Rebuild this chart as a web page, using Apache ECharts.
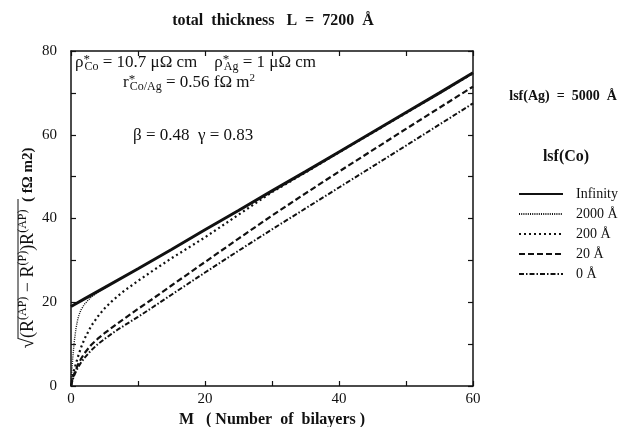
<!DOCTYPE html>
<html>
<head>
<meta charset="utf-8">
<script src="https://cdn.jsdelivr.net/npm/echarts@6/dist/echarts.min.js"></script>
<style>
  html, body { margin: 0; padding: 0; background: #fff; }
  #chart { width: 637px; height: 427px; }
</style>
</head>
<body>
<div id="chart"></div>
<script>
// bilayer number M and sqrt((R_AP - R_P) R_AP), per lsf(Co)
const mInf = [0, 2, 5, 10, 15, 20, 25, 30, 35, 40, 45, 50, 55, 60];
const vInf = [19, 20.8, 23.5, 28, 32.6, 37.3, 41.9, 46.6, 51.2, 55.9, 60.6, 65.3, 70, 74.8];

const m2000 = [0, 0.1, 0.25, 0.5, 0.75, 1, 1.25, 1.5, 2, 2.5, 3, 4, 5, 7, 10, 15, 20, 30, 40, 50, 60];
const v2000 = [0, 3, 6.5, 10.8, 13.8, 15.9, 17.2, 18.2, 19.5, 20.4, 21.2, 22.4, 23.4, 25.3, 28, 32.6, 37.3, 46.6, 55.9, 65.3, 74.8];

const m200 = [0, 0.25, 0.5, 1, 1.5, 2, 3, 4, 5, 6, 7, 8, 10, 12, 15, 17.5, 20, 22.5, 25, 27.5, 30, 35, 40, 50, 60];
const v200 = [0, 2.3, 4, 6.8, 9.2, 11.2, 14.3, 16.6, 18.5, 20.1, 21.5, 22.8, 25.1, 27.3, 30.5, 33, 35.5, 38.2, 40.9, 43.6, 46.3, 51, 55.8, 65.2, 74.7];

const m20 = [0, 0.25, 0.5, 1, 1.5, 2, 3, 4, 5, 6, 7, 8, 10, 12, 15, 20, 25, 30, 35, 40, 50, 60];
const v20 = [0, 1.8, 3, 5, 6.5, 7.8, 9.8, 11.3, 12.6, 13.8, 15, 16.1, 18.4, 20.6, 24, 29.6, 35.2, 40.7, 46, 51.2, 61.4, 71.5];

const m0 = [0, 0.25, 0.5, 1, 1.5, 2, 3, 4, 5, 6, 7, 8, 10, 12, 15, 20, 25, 30, 35, 40, 50, 60];
const v0 = [0, 1.5, 2.6, 4.3, 5.6, 6.7, 8.5, 10, 11.2, 12.4, 13.5, 14.5, 16.5, 18.6, 21.8, 27.1, 32.3, 37.4, 42.4, 47.4, 57.4, 67.5];

const seriesNames = ["Infinity", "2000 Å", "200 Å", "20 Å", "0 Å"];

function pairs(ms, vs) {
  return ms.map(function (m, i) {
    return [m, vs[i]];
  });
}

const serif = "Liberation Serif, Times New Roman, serif";
const ink = "#111";

let chart = echarts.init(document.getElementById("chart"));

function lineSeries(name, data, width, type) {
  return {
    name: name,
    type: "line",
    data: data,
    symbol: "none",
    itemStyle: { color: ink },
    lineStyle: { color: ink, width: width, type: type },
    z: 3,
  };
}

let axisBase = {
  type: "value",
  interval: 10,
  splitLine: { show: false },
  axisLine: { show: true, onZero: false, lineStyle: { color: ink, width: 1.5 } },
  axisTick: { show: true, inside: true, length: 5, lineStyle: { color: ink, width: 1.2 } },
};

let option = {
  backgroundColor: "#fff",
  animation: false,
  title: {
    text: "total  thickness   L  =  7200  Å",
    left: 268,
    top: 8,
    textAlign: "center",
    textStyle: { fontFamily: serif, fontSize: 16, fontWeight: "bold", color: ink },
  },
  grid: { left: 71, right: 164, top: 51, bottom: 41, outerBoundsMode: "none", containLabel: false },
  legend: {
    data: seriesNames,
    orient: "vertical",
    left: 513,
    top: 182,
    itemWidth: 44,
    itemHeight: 14,
    itemGap: 6,
    itemStyle: { opacity: 0 },
    textStyle: { fontFamily: serif, fontSize: 14, color: ink, padding: [0, 0, 0, 8] },
  },
  xAxis: [
    Object.assign({}, axisBase, {
      min: 0,
      max: 60,
      position: "bottom",
      name: "M   ( Number  of  bilayers )",
      nameLocation: "middle",
      nameGap: 20,
      nameTextStyle: { fontFamily: serif, fontSize: 16, fontWeight: "bold", color: ink },
      axisLabel: {
        color: ink,
        fontFamily: serif,
        fontSize: 15,
        margin: 6,
        formatter: function (v) {
          return v % 20 === 0 ? v : "";
        },
      },
    }),
    Object.assign({}, axisBase, {
      min: 0,
      max: 60,
      position: "top",
      axisLabel: { show: false },
    }),
  ],
  yAxis: [
    Object.assign({}, axisBase, {
      min: 0,
      max: 80,
      position: "left",
      axisLabel: {
        color: ink,
        fontFamily: serif,
        fontSize: 15,
        margin: 14,
        formatter: function (v) {
          return v % 20 === 0 ? v : "";
        },
      },
    }),
    Object.assign({}, axisBase, {
      min: 0,
      max: 80,
      position: "right",
      axisLabel: { show: false },
    }),
  ],
  graphic: [
    {
      type: "text",
      x: 75,
      y: 53,
      style: {
        text: "{t|ρ}{st|*}{sb|Co}{t| = 10.7 μΩ cm    ρ}{st|*}{sb|Ag}{t| = 1 μΩ cm}",
        fill: ink,
        rich: {
          t: { fontFamily: serif, fontSize: 17, lineHeight: 20, color: ink },
          st: { fontFamily: serif, fontSize: 13, lineHeight: 10, width: 1, verticalAlign: "top", color: ink },
          sb: { fontFamily: serif, fontSize: 12, lineHeight: 8, verticalAlign: "bottom", color: ink },
        },
      },
    },
    {
      type: "text",
      x: 123,
      y: 73,
      style: {
        text: "{t|r}{st|*}{sb|Co/Ag}{t| = 0.56 fΩ m}{sp|2}",
        fill: ink,
        rich: {
          t: { fontFamily: serif, fontSize: 17, lineHeight: 20, color: ink },
          st: { fontFamily: serif, fontSize: 13, lineHeight: 10, width: 1, verticalAlign: "top", color: ink },
          sb: { fontFamily: serif, fontSize: 12, lineHeight: 8, verticalAlign: "bottom", color: ink },
          sp: { fontFamily: serif, fontSize: 11, lineHeight: 12, verticalAlign: "top", color: ink },
        },
      },
    },
    {
      type: "text",
      x: 133,
      y: 127,
      style: {
        text: "β = 0.48  γ = 0.83",
        font: "17px " + serif,
        fill: ink,
      },
    },
    {
      type: "text",
      x: 28,
      y: 248,
      rotation: Math.PI / 2,
      style: {
        text: "{r|√}{t|(R}{su|(AP)}{t| − R}{su|(P)}{t|)R}{su|(AP)}{b|  ( fΩ m2)}",
        align: "center",
        verticalAlign: "middle",
        fill: ink,
        rich: {
          r: { fontFamily: serif, fontSize: 19, lineHeight: 22, color: ink },
          t: { fontFamily: serif, fontSize: 18, lineHeight: 22, color: ink },
          su: { fontFamily: serif, fontSize: 12, lineHeight: 12, verticalAlign: "top", color: ink },
          b: { fontFamily: serif, fontSize: 15, lineHeight: 22, fontWeight: "bold", color: ink },
        },
      },
    },
    {
      type: "line",
      shape: { x1: 18, y1: 199, x2: 18, y2: 339 },
      style: { stroke: ink, lineWidth: 1 },
    },
    {
      type: "text",
      x: 563,
      y: 96,
      style: {
        text: "lsf(Ag)  =  5000  Å",
        font: "bold 14px " + serif,
        fill: ink,
        align: "center",
        verticalAlign: "middle",
      },
    },
    {
      type: "text",
      x: 566,
      y: 157,
      style: {
        text: "lsf(Co)",
        font: "bold 16px " + serif,
        fill: ink,
        align: "center",
        verticalAlign: "middle",
      },
    },
  ],
  series: [
    lineSeries(seriesNames[4], pairs(m0, v0), 2, [5, 2, 1.5, 2]),
    lineSeries(seriesNames[3], pairs(m20, v20), 2.2, [6, 3]),
    lineSeries(seriesNames[2], pairs(m200, v200), 2.2, [2, 3]),
    lineSeries(seriesNames[1], pairs(m2000, v2000), 1.4, [1, 1.2]),
    lineSeries(seriesNames[0], pairs(mInf, vInf), 3, "solid"),
  ],
};

chart.setOption(option);
</script>
</body>
</html>
